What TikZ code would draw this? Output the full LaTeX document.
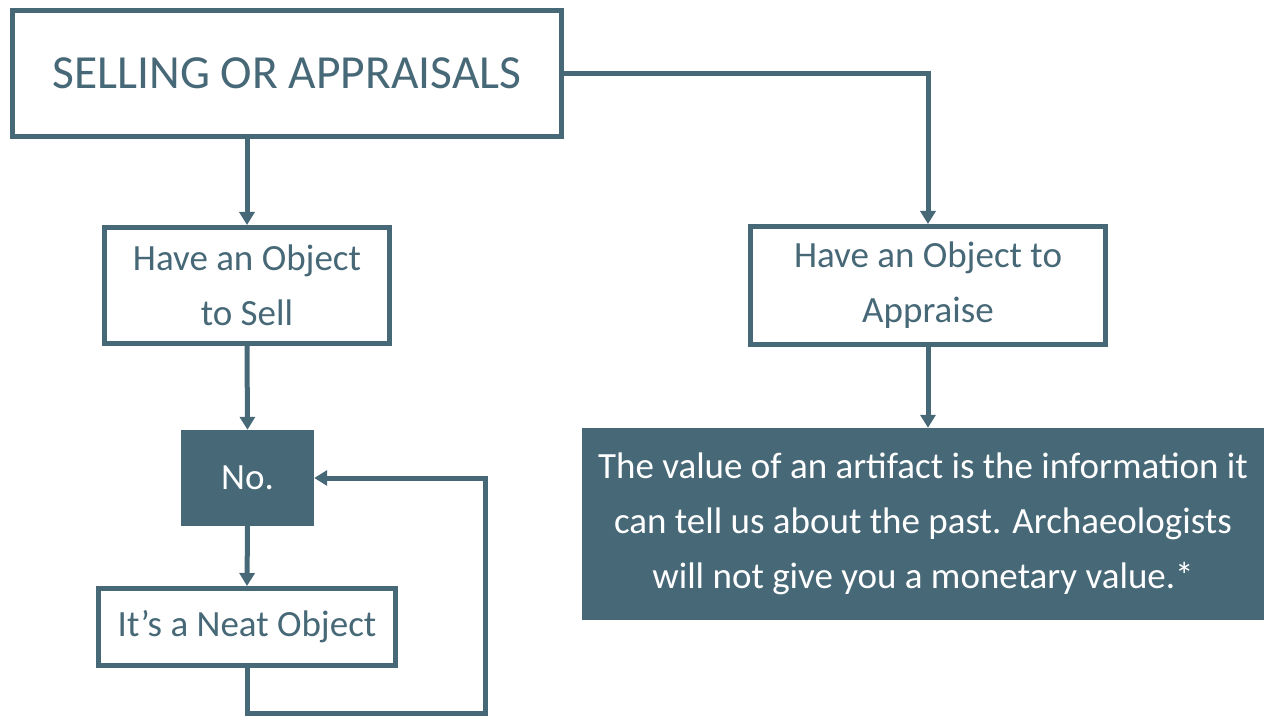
\documentclass[tikz,border=0pt]{standalone}
\usepackage{fontspec}
\setmainfont{Carlito}
\usetikzlibrary{arrows.meta}
\definecolor{slate}{HTML}{476877}
\begin{document}
\begin{tikzpicture}[x=1pt,y=-1pt,
  obox/.style={draw=slate,line width=5pt,inner sep=0pt,text=slate,align=center,font=\fontsize{37}{55}\selectfont},
  fbox/.style={fill=slate,inner sep=0pt,text=white,align=center,font=\fontsize{37}{55}\selectfont},
  arr/.style={draw=slate,line width=5pt,-{Triangle[width=15pt,length=13pt]}},
  ln/.style={draw=slate,line width=5pt}]
\useasboundingbox (0,0) rectangle (1264,719);
\node[obox,minimum width=549pt,minimum height=126pt,font=\fontsize{47.5}{55}\selectfont] (top) at (287,73.5) {SELLING OR APPRAISALS};
\node[obox,minimum width=285pt,minimum height=116pt] (sell) at (247,285.5) {Have an Object\\to Sell};
\node[fbox,minimum width=133pt,minimum height=96pt] (no) at (247.5,478) {No.};
\node[obox,minimum width=297pt,minimum height=77pt] (neat) at (247,627) {It’s a Neat Object};
\node[obox,minimum width=355pt,minimum height=118pt] (app) at (928,285.5) {Have an Object to\\Appraise};
\node[fbox,minimum width=682pt,minimum height=192pt] (val) at (923,524) {The value of an artifact is the information it\\can tell us about the past. Archaeologists\\will not give you a monetary value.*};
\coordinate (loopc) at (485,713);
\draw[arr] (sell.north |- top.south) -- (sell.north);
\draw[arr] (sell.south) -- (no.north);
\draw[arr] (no.south) -- (neat.north);
\draw[arr] (neat.south) |- (loopc) |- (no.east);
\draw[arr] (top.east) -| (app.north);
\draw[arr] (app.south) -- (app.south |- val.north);
\end{tikzpicture}
\end{document}
